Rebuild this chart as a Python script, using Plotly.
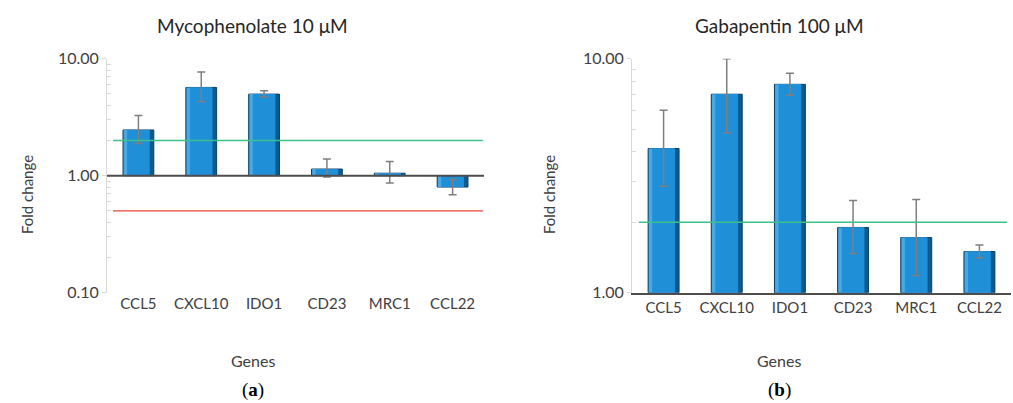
import plotly.graph_objects as go

# ---------------- data ----------------
genes = ["CCL5", "CXCL10", "IDO1", "CD23", "MRC1", "CCL22"]

myco_fold = [2.46, 5.68, 4.98, 1.14, 1.05, 0.80]
myco_err_hi = [3.27, 7.69, 5.32, 1.39, 1.32, 0.93]
myco_err_lo = [1.88, 4.31, 4.70, 0.975, 0.866, 0.687]

gaba_fold = [4.13, 7.05, 7.77, 1.90, 1.72, 1.50]
gaba_err_hi = [6.02, 10.0, 8.66, 2.48, 2.50, 1.60]
gaba_err_lo = [2.85, 4.83, 6.98, 1.47, 1.185, 1.41]

up_threshold = 2.0
down_threshold = 0.5
baseline = 1.0

left_title = "Mycophenolate 10 μM"
right_title = "Gabapentin 100 μM"
y_title = "Fold change"
x_title = "Genes"
panel_labels = ["(<b>a</b>)", "(<b>b</b>)"]

# ---------------- style ----------------
BAR_DARK = "#0f5a8c"
BAR_LIGHT = "#47aae6"
BAR_FILL = "#1f8fd8"
BAR_EDGE = "#0b3f66"
ERR_COL = "#7f7f7f"
GRID = "#d9d9d9"
AXIS_DARK = "#4d4d4d"
TXT = "#404040"
GREEN = "#3cc08a"
RED = "#f0433a"
FONT = "Lato"

W, H = 1013, 403
left_dom = [107 / W, 484 / W]
right_dom = [632 / W, 1011 / W]
y_dom = [(H - 292.7) / H, (H - 58.7) / H]

BW = 0.49     # bar width (category units)
BEV = 0.065   # bevel width

fig = go.Figure()


def add_panel(fold, hi, lo, xa, ya):
    size = [v - baseline for v in fold]
    # outer (dark side) bar
    fig.add_trace(go.Bar(
        x=genes, y=size, base=baseline, width=BW, offset=-BW / 2,
        marker=dict(color=BAR_DARK, line=dict(color=BAR_EDGE, width=1)),
        xaxis=xa, yaxis=ya, showlegend=False, hoverinfo="skip"))
    # light left bevel
    fig.add_trace(go.Bar(
        x=genes, y=size, base=baseline, width=BW - BEV - 0.02, offset=-BW / 2 + 0.01,
        marker=dict(color=BAR_LIGHT, line=dict(width=0)),
        xaxis=xa, yaxis=ya, showlegend=False, hoverinfo="skip"))
    # main face
    fig.add_trace(go.Bar(
        x=genes, y=size, base=baseline, width=BW - 2 * BEV, offset=-BW / 2 + BEV,
        marker=dict(color=BAR_FILL, line=dict(width=0)),
        xaxis=xa, yaxis=ya, showlegend=False, hoverinfo="skip"))
    fig.add_trace(go.Scatter(
        x=genes, y=fold, mode="markers", marker=dict(size=1, opacity=0),
        error_y=dict(type="data", symmetric=False,
                     array=[h - v for h, v in zip(hi, fold)],
                     arrayminus=[v - l for l, v in zip(lo, fold)],
                     color=ERR_COL, thickness=1.5, width=4),
        xaxis=xa, yaxis=ya, showlegend=False, hoverinfo="skip"))


add_panel(myco_fold, myco_err_hi, myco_err_lo, "x", "y")
add_panel(gaba_fold, gaba_err_hi, gaba_err_lo, "x2", "y2")


def minor_vals(e0, e1):
    return [m * 10 ** e for e in range(e0, e1) for m in range(2, 10)]


xcommon = dict(type="category", showline=False, showgrid=False, ticks="", automargin=False,
               tickfont=dict(family=FONT, size=15, color=TXT), zeroline=False)
ycommon = dict(type="log", dtick=1, tickformat=".2f", showgrid=True, gridcolor=GRID,
               gridwidth=1, showline=True, linecolor=GRID, linewidth=1, automargin=False,
               ticks="outside", ticklen=4, tickcolor=GRID,
               tickfont=dict(family=FONT, size=16, color=TXT), zeroline=False)

fig.update_layout(
    width=W, height=H, margin=dict(l=0, r=0, t=0, b=0, autoexpand=False),
    paper_bgcolor="white", plot_bgcolor="white",
    barmode="overlay",
    xaxis=dict(domain=left_dom, anchor="y", **xcommon),
    yaxis=dict(domain=y_dom, anchor="x", range=[-1, 1],
               minor=dict(tickvals=minor_vals(-1, 1), ticks="inside", ticklen=4,
                          tickcolor=GRID, showgrid=False), **ycommon),
    xaxis2=dict(domain=right_dom, anchor="y2", **xcommon),
    yaxis2=dict(domain=y_dom, anchor="x2", range=[0, 1],
                minor=dict(tickvals=minor_vals(0, 1), ticks="inside", ticklen=4,
                           tickcolor=GRID, showgrid=False), **ycommon),
)
fig.update_layout(xaxis2=dict(showline=True, linecolor=AXIS_DARK, linewidth=2))

# reference lines
fig.add_shape(type="line", xref="x domain", yref="y", x0=0, x1=1, y0=baseline, y1=baseline,
              line=dict(color=AXIS_DARK, width=2), layer="above")
fig.add_shape(type="line", xref="x domain", yref="y", x0=0.016, x1=0.997, y0=up_threshold,
              y1=up_threshold, line=dict(color=GREEN, width=1.3))
fig.add_shape(type="line", xref="x domain", yref="y", x0=0.016, x1=0.997, y0=down_threshold,
              y1=down_threshold, line=dict(color=RED, width=1.3))
fig.add_shape(type="line", xref="x2 domain", yref="y2", x0=0.018, x1=0.99, y0=up_threshold,
              y1=up_threshold, line=dict(color=GREEN, width=1.3))

# text
ann = []
for cx, title, lab, yx in [(252.5, left_title, panel_labels[0], 27),
                            (779, right_title, panel_labels[1], 549)]:
    ann.append(dict(x=cx / W, y=1 - 25 / H, text=title, showarrow=False,
                    xref="paper", yref="paper", xanchor="center", yanchor="middle",
                    font=dict(family=FONT, size=19, color="#262626")))
    ann.append(dict(x=cx / W, y=1 - 360 / H, text=x_title, showarrow=False,
                    xref="paper", yref="paper", xanchor="center", yanchor="middle",
                    font=dict(family=FONT, size=16, color=TXT)))
    ann.append(dict(x=yx / W, y=1 - 195 / H, text=y_title, showarrow=False, textangle=-90,
                    xref="paper", yref="paper", xanchor="center", yanchor="middle",
                    font=dict(family=FONT, size=15, color=TXT)))
    ann.append(dict(x=cx / W, y=1 - 390 / H, text=lab, showarrow=False,
                    xref="paper", yref="paper", xanchor="center", yanchor="middle",
                    font=dict(family="Liberation Serif", size=19, color="black")))
fig.update_layout(annotations=ann)

fig.write_html("out.html", config={"displayModeBar": False},
               post_script="document.body.style.margin='0';")
